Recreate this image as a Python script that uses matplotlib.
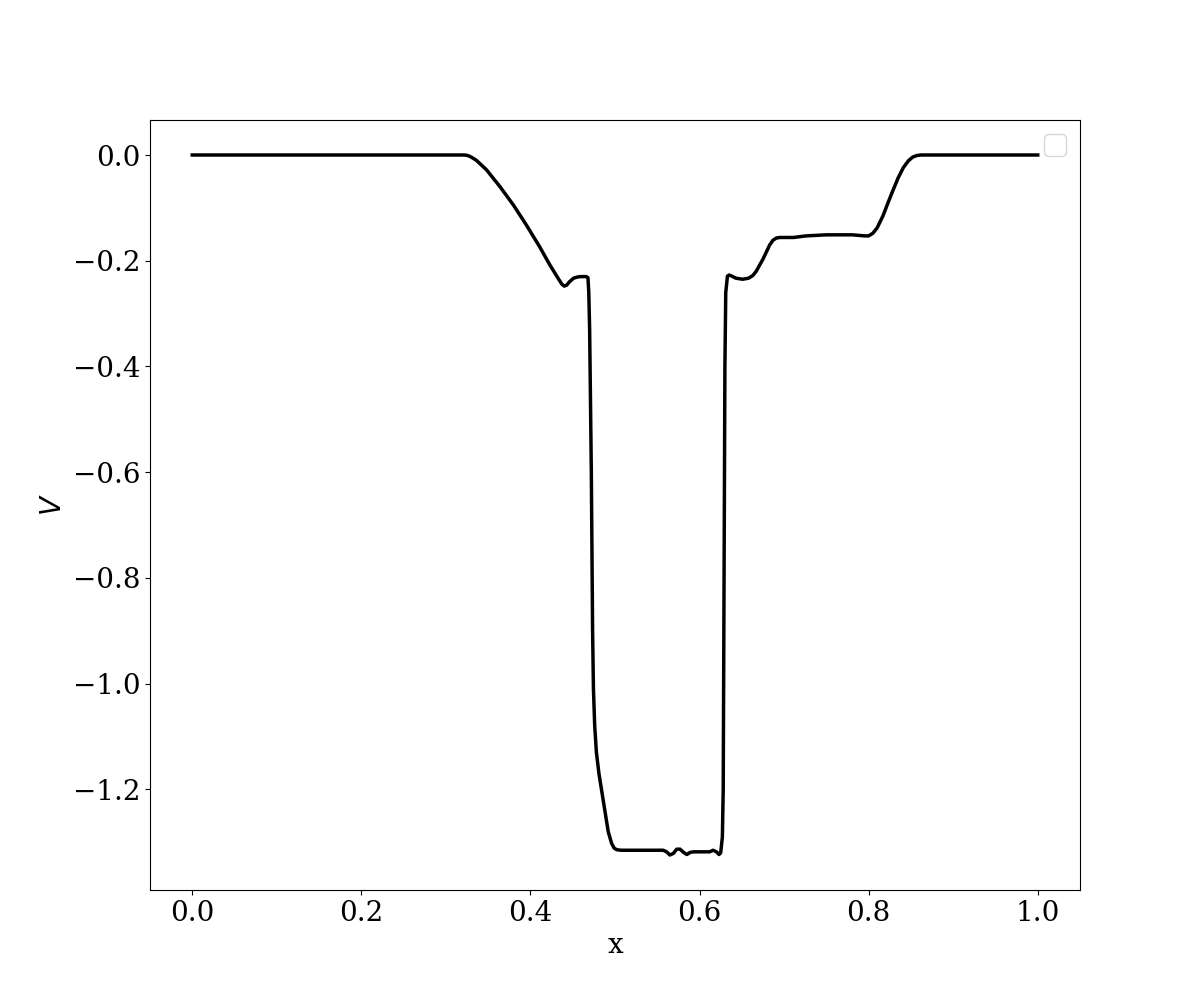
import numpy as np
import matplotlib
matplotlib.use('Agg')
import matplotlib.pyplot as plt

plt.rcParams['font.family'] = 'serif'
plt.rcParams['font.size'] = 20

# values
x = [0.0, 0.317, 0.322, 0.326, 0.330, 0.336, 0.348, 0.364, 0.380, 0.395, 0.411,
     0.423, 0.433, 0.437, 0.440, 0.443, 0.446, 0.451, 0.455, 0.459, 0.466,
     0.468, 0.469, 0.470, 0.472, 0.4735, 0.4745, 0.476, 0.478, 0.481, 0.486,
     0.492, 0.496, 0.499, 0.502, 0.507, 0.557, 0.561, 0.565, 0.569, 0.573,
     0.577, 0.581, 0.585, 0.589, 0.593, 0.600, 0.612, 0.616, 0.620, 0.623,
     0.625, 0.627, 0.628, 0.629, 0.630, 0.631, 0.633, 0.635, 0.638, 0.643,
     0.651, 0.658, 0.663, 0.667, 0.675, 0.683, 0.687, 0.691, 0.695, 0.703,
     0.711, 0.726, 0.750, 0.781, 0.795, 0.800, 0.805, 0.810, 0.817, 0.823,
     0.829, 0.835, 0.841, 0.847, 0.852, 0.857, 0.862, 0.866, 0.97, 1.0]
v = [0.0, 0.0, 0.0, -0.001, -0.004, -0.010, -0.028, -0.060, -0.095, -0.132, -0.174,
     -0.208, -0.234, -0.244, -0.248, -0.246, -0.240, -0.233, -0.231, -0.230, -0.230,
     -0.232, -0.26, -0.33, -0.60, -0.90, -1.01, -1.08, -1.13, -1.17, -1.22,
     -1.28, -1.302, -1.311, -1.314, -1.315, -1.315, -1.318, -1.324, -1.321, -1.313,
     -1.313, -1.319, -1.323, -1.319, -1.318, -1.318, -1.318, -1.315, -1.318, -1.323,
     -1.320, -1.29, -1.20, -0.80, -0.40, -0.26, -0.229, -0.227, -0.229, -0.233,
     -0.235, -0.233, -0.228, -0.220, -0.197, -0.170, -0.161, -0.157, -0.156, -0.156,
     -0.156, -0.153, -0.151, -0.151, -0.153, -0.153, -0.148, -0.138, -0.115, -0.090,
     -0.066, -0.043, -0.024, -0.011, -0.004, -0.001, 0.0, 0.0, 0.0, 0.0]

plt.figure(figsize=(12, 10))
plt.plot(x, v, color='black', linewidth=2.5, solid_joinstyle='round')
plt.xlabel('x')
plt.ylabel('$V$')
plt.legend(loc='upper right')
plt.savefig('out.png', dpi=100)
